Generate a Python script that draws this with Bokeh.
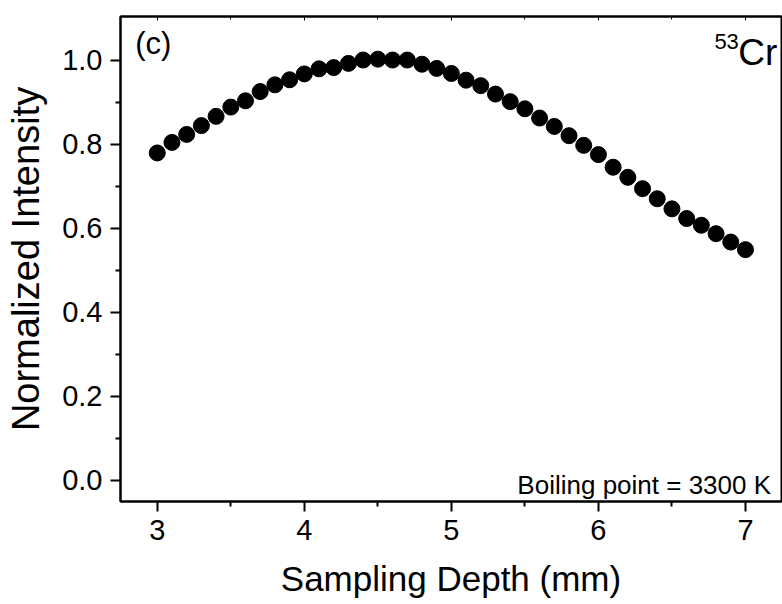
from bokeh.plotting import figure
from bokeh.models import (ColumnDataSource, Label, LinearAxis, Range1d, FixedTicker,
                          CustomJSTickFormatter)
from bokeh.embed import file_html
from bokeh.resources import INLINE

# Data
depth_mm = [3.0, 3.1, 3.2, 3.3, 3.4, 3.5, 3.6, 3.7, 3.8, 3.9,
            4.0, 4.1, 4.2, 4.3, 4.4, 4.5, 4.6, 4.7, 4.8, 4.9,
            5.0, 5.1, 5.2, 5.3, 5.4, 5.5, 5.6, 5.7, 5.8, 5.9,
            6.0, 6.1, 6.2, 6.3, 6.4, 6.5, 6.6, 6.7, 6.8, 6.9, 7.0]
intensity = [0.779, 0.804, 0.823, 0.844, 0.866, 0.888, 0.903, 0.925, 0.941, 0.953,
             0.967, 0.979, 0.982, 0.992, 1.000, 1.002, 1.000, 1.000, 0.990, 0.980,
             0.968, 0.952, 0.939, 0.919, 0.901, 0.884, 0.862, 0.842, 0.820, 0.797,
             0.775, 0.745, 0.721, 0.694, 0.670, 0.646, 0.623, 0.607, 0.587, 0.567, 0.549]
x_ticks = [3, 4, 5, 6, 7]
x_minor = [2.5, 3.5, 4.5, 5.5, 6.5, 7.5]
y_ticks = [0.0, 0.2, 0.4, 0.6, 0.8, 1.0]
y_minor = [0.1, 0.3, 0.5, 0.7, 0.9]

FONT = "Liberation Sans"

p = figure(width=782, height=600, output_backend="svg", toolbar_location=None,
           x_range=Range1d(2.75, 7.245), y_range=Range1d(-0.05, 1.1035),
           min_border_left=120, min_border_right=1, min_border_top=16, min_border_bottom=98)
p.background_fill_color = "white"
p.border_fill_color = "white"
p.outline_line_color = "black"
p.outline_line_width = 2
p.grid.visible = False

src = ColumnDataSource(dict(x=depth_mm, y=intensity))
p.scatter("x", "y", source=src, size=16, fill_color="black", line_color="black")

for ax in (p.xaxis[0], p.yaxis[0]):
    ax.axis_line_width = 2
    ax.major_tick_line_width = 2
    ax.minor_tick_line_width = 2
    ax.major_tick_in = 0
    ax.major_tick_out = 10
    ax.minor_tick_in = 0
    ax.minor_tick_out = 5
    ax.major_label_text_font = FONT
    ax.major_label_text_font_size = "29px"
    ax.major_label_text_color = "black"
    ax.axis_label_text_font = FONT
    ax.axis_label_text_font_style = "normal"
    ax.axis_label_text_color = "black"

p.xaxis[0].ticker = FixedTicker(ticks=x_ticks, minor_ticks=x_minor)
p.yaxis[0].ticker = FixedTicker(ticks=y_ticks, minor_ticks=y_minor)
p.yaxis[0].formatter = CustomJSTickFormatter(code="return tick.toFixed(1);")
p.xaxis[0].axis_label = "Sampling Depth (mm)"
p.yaxis[0].axis_label = "Normalized Intensity"
p.xaxis[0].axis_label_text_font_size = "35px"
p.yaxis[0].axis_label_text_font_size = "38px"
p.xaxis[0].major_label_standoff = 8
p.yaxis[0].major_label_standoff = 8
p.xaxis[0].axis_label_standoff = 16
p.yaxis[0].axis_label_standoff = 12

top = LinearAxis(ticker=FixedTicker(ticks=x_ticks, minor_ticks=x_minor),
                 formatter=CustomJSTickFormatter(code="return '';"))
top.major_label_text_font_size = "1px"
top.major_label_standoff = 0
top.major_tick_in = 4
top.major_tick_out = 0
top.minor_tick_in = 3
top.minor_tick_out = 0
top.axis_line_width = 2
p.add_layout(top, "above")

p.add_layout(Label(x=2.85, y=1.04, text="(c)", text_font=FONT, text_font_size="31px",
                   text_color="black", text_baseline="middle", text_align="left"))
p.add_layout(Label(x=7.217, y=1.018, text="Cr", text_font=FONT, text_font_size="37px",
                   text_color="black", text_baseline="alphabetic", text_align="right"))
p.add_layout(Label(x=6.955, y=1.045, text="53", text_font=FONT, text_font_size="22px",
                   text_color="black", text_baseline="alphabetic", text_align="right"))
p.add_layout(Label(x=7.174, y=-0.01, text="Boiling point = 3300 K", text_font=FONT,
                   text_font_size="26px", text_color="black",
                   text_baseline="alphabetic", text_align="right"))

open("out.html", "w").write(file_html(p, INLINE))
